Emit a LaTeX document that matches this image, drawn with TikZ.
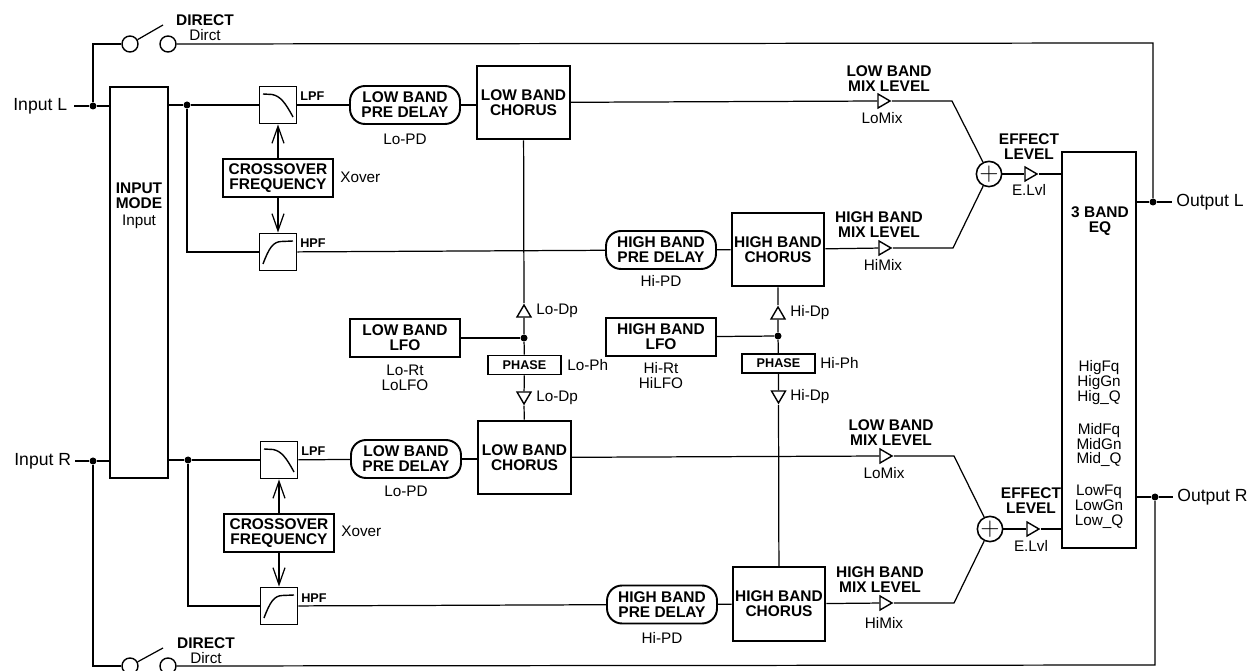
\documentclass[tikz,border=0pt]{standalone}
\usepackage{xcolor}
\usepackage{fontspec}
\setmainfont{Liberation Sans}
\usepackage{tikz}
\usetikzlibrary{arrows.meta, shapes.geometric, positioning, calc}

\tikzset{
  wire/.style={line width=0.7pt},
  feed/.style={wire, -{Straight Barb[length=0.34cm, width=0.24cm]}},
  tagtext/.style={inner sep=0pt, align=center, font=\fontsize{8.7}{8.5}\selectfont},
  headtext/.style={inner sep=0pt, align=center, font=\bfseries\fontsize{8.8}{8.5}\selectfont},
  tinytext/.style={inner sep=0pt, font=\bfseries\fontsize{7.2}{8}\selectfont},
  porttext/.style={inner sep=0pt, font=\fontsize{10}{12}\selectfont},
  filterbox/.style={draw, line width=1.1pt, minimum width=0.74cm, minimum height=0.74cm, inner sep=0pt},
  xoverbox/.style={headtext, draw, line width=1.1pt, minimum width=2.2cm, minimum height=0.76cm},
  pillbox/.style={headtext, draw, line width=1.1pt, rounded corners=0.3cm, minimum width=2.2cm, minimum height=0.76cm},
  lfobox/.style={headtext, draw, line width=1.2pt, minimum width=2.2cm, minimum height=0.75cm},
  chorusbox/.style={headtext, draw, line width=1.2pt, minimum width=1.85cm, minimum height=1.47cm},
  phasebox/.style={tinytext, draw, line width=1pt, minimum width=1.47cm, minimum height=0.38cm},
  dot/.style={circle, fill=black, inner sep=0pt, minimum size=0.14cm},
  contact/.style={circle, draw, line width=0.8pt, inner sep=0pt, minimum size=0.32cm},
  summer/.style={circle, draw, line width=0.9pt, inner sep=0pt, minimum size=0.44cm, font=\fontsize{15}{15}\selectfont},
  amp/.style={isosceles triangle, isosceles triangle stretches, draw, line width=0.8pt, inner sep=0pt,
    minimum width=0.28cm, minimum height=0.24cm},
  ampright/.style={amp, shape border rotate=0},
  ampup/.style={amp, shape border rotate=90},
  ampdown/.style={amp, shape border rotate=270}
}

\newcommand{\lowcurve}[1]{\draw[line width=0.8pt, shift={(#1)}] (-15,-11) -- (-6,-10.5) .. controls (2,-9) and (7,-3) .. (15,12);}
\newcommand{\highcurve}[1]{\draw[line width=0.8pt, shift={(#1)}] (-15,12) .. controls (-9,-4) and (-5,-10) .. (3,-10.5) -- (15,-11);}

\begin{document}
\begin{tikzpicture}[x=0.02cm, y=-0.02cm]
  \useasboundingbox (0,0) rectangle (1250,671);

  % inputs and the direct paths
  \node[porttext, anchor=west] (inl) at (13,106) {Input L};
  \node[porttext, anchor=west] (inr) at (14,461) {Input R};
  \node[porttext, anchor=west] (outl) at (1176,202) {Output L};
  \node[porttext, anchor=west] (outr) at (1177,497) {Output R};
  \coordinate (inlend) at (74,106);
  \coordinate (inrend) at (75,461);
  \coordinate (outlend) at (1172,202);
  \coordinate (outrend) at (1173,497);
  \node[dot] (inldot) at (93,106) {};
  \node[dot] (inrdot) at (93,461) {};
  \node[dot] (outldot) at (1153,202) {};
  \node[dot] (outrdot) at (1155,497) {};
  \node[contact] (swla) at (130,44) {};
  \node[contact] (swlb) at (168,44) {};
  \node[contact] (swra) at (130,666) {};
  \node[contact] (swrb) at (168,666) {};
  \coordinate (swlarm) at (163,25);
  \coordinate (swrarm) at (163,648);
  \coordinate (topleft) at (93,44);
  \coordinate (topright) at (1153,43);
  \coordinate (botleft) at (93,666);
  \coordinate (botright) at (1155,665);
  \node[headtext] (dirl) at (205,20) {DIRECT};
  \node[tagtext] (dirlp) at (205,35) {Dirct};
  \node[headtext] (dirr) at (206,643) {DIRECT};
  \node[tagtext] (dirrp) at (206,658) {Dirct};

  % input mode and eq
  \node[draw, line width=1.3pt, minimum width=1.16cm, minimum height=7.82cm] (inmode) at (139,282.5) {};
  \node[headtext] (inmodet) at (139,196) {INPUT\\MODE};
  \node[tagtext] (inmodep) at (139,222) {Input};
  \node[draw, line width=1.4pt, minimum width=1.48cm, minimum height=7.92cm] (eq) at (1099,350) {};
  \node[headtext] (eqt) at (1100,221.5) {3 BAND\\EQ};
  \node[tagtext] (eqhi) at (1099,382.5) {HigFq\\HigGn\\Hig\_Q};
  \node[tagtext] (eqmid) at (1099,445) {MidFq\\MidGn\\Mid\_Q};
  \node[tagtext] (eqlo) at (1099,507) {LowFq\\LowGn\\Low\_Q};

  % left channel front
  \node[dot] (ltap) at (187,105) {};
  \node[filterbox] (lpfa) at (278,105) {};
  \node[filterbox] (hpfa) at (278,252) {};
  \node[xoverbox] (xoa) at (278,178) {CROSSOVER\\FREQUENCY};
  \node[tagtext, anchor=west] (xoap) at (340,177) {Xover};
  \node[tinytext, anchor=west] (lpfat) at (300,96) {LPF};
  \node[tinytext, anchor=west] (hpfat) at (300,243) {HPF};
  \coordinate (ltapb) at (187,252);
  \lowcurve{lpfa.center}
  \highcurve{hpfa.center}
  \node[pillbox] (lopda) at (405,105) {LOW BAND\\PRE DELAY};
  \node[tagtext] (lopdat) at (405,139) {Lo-PD};
  \node[chorusbox] (locha) at (523.5,102.5) {LOW BAND\\CHORUS};
  \node[pillbox] (hipda) at (661,250) {HIGH BAND\\PRE DELAY};
  \node[tagtext] (hipdat) at (661,281) {Hi-PD};
  \node[chorusbox] (hicha) at (778,249.5) {HIGH BAND\\CHORUS};

  % right channel front
  \node[dot] (rtap) at (188,460) {};
  \node[filterbox] (lpfb) at (279,460) {};
  \node[filterbox] (hpfb) at (279,606) {};
  \node[xoverbox] (xob) at (279,533) {CROSSOVER\\FREQUENCY};
  \node[tagtext, anchor=west] (xobp) at (341,531) {Xover};
  \node[tinytext, anchor=west] (lpfbt) at (301,451) {LPF};
  \node[tinytext, anchor=west] (hpfbt) at (301,598) {HPF};
  \coordinate (rtapb) at (188,606);
  \lowcurve{lpfb.center}
  \highcurve{hpfb.center}
  \node[pillbox] (lopdb) at (406,459) {LOW BAND\\PRE DELAY};
  \node[tagtext] (lopdbt) at (406,491) {Lo-PD};
  \node[chorusbox] (lochb) at (524.5,457.5) {LOW BAND\\CHORUS};
  \node[pillbox] (hipdb) at (662,604.5) {HIGH BAND\\PRE DELAY};
  \node[tagtext] (hipdbt) at (662,638) {Hi-PD};
  \node[chorusbox] (hichb) at (779,604) {HIGH BAND\\CHORUS};

  % modulation
  \node[lfobox] (lolfo) at (405,338) {LOW BAND\\LFO};
  \node[tagtext] (lolfop) at (405,377.5) {Lo-Rt\\LoLFO};
  \node[dot] (lodot) at (524,338) {};
  \node[phasebox] (loph) at (524.5,365) {PHASE};
  \node[tagtext, anchor=west] (lophp) at (567,365) {Lo-Ph};
  \node[ampup] (lodpa) at (524,313) {};
  \node[tagtext, anchor=west] (lodpat) at (536,311) {Lo-Dp};
  \node[ampdown] (lodpb) at (524,396) {};
  \node[tagtext, anchor=west] (lodpbt) at (536,398) {Lo-Dp};
  \node[lfobox] (hilfo) at (661,337) {HIGH BAND\\LFO};
  \node[tagtext] (hilfop) at (661,375.5) {Hi-Rt\\HiLFO};
  \node[dot] (hidot) at (778,336) {};
  \node[phasebox] (hiph) at (778.5,363.5) {PHASE};
  \node[tagtext, anchor=west] (hiphp) at (820,363) {Hi-Ph};
  \node[ampup] (hidpa) at (778,315) {};
  \node[tagtext, anchor=west] (hidpat) at (790,313) {Hi-Dp};
  \node[ampdown] (hidpb) at (778.5,395) {};
  \node[tagtext, anchor=west] (hidpbt) at (790,397) {Hi-Dp};

  % mix section
  \node[ampright] (lomixa) at (882,101) {};
  \node[headtext] (lomixat) at (889,79) {LOW BAND\\MIX LEVEL};
  \node[tagtext] (lomixap) at (882,118) {LoMix};
  \node[ampright] (himixa) at (883,248) {};
  \node[headtext] (himixat) at (879,224.5) {HIGH BAND\\MIX LEVEL};
  \node[tagtext] (himixap) at (883,265) {HiMix};
  \node[summer] (suma) at (989,174) {$+$};
  \coordinate (lobenda) at (952,101);
  \coordinate (hibenda) at (953,248);
  \node[ampright] (efa) at (1029,174) {};
  \node[headtext] (efat) at (1029,146.5) {EFFECT\\LEVEL};
  \node[tagtext] (efap) at (1029,190) {E.Lvl};
  \node[ampright] (lomixb) at (884,456) {};
  \node[headtext] (lomixbt) at (891,433) {LOW BAND\\MIX LEVEL};
  \node[tagtext] (lomixbp) at (884,473) {LoMix};
  \node[ampright] (himixb) at (884,603) {};
  \node[headtext] (himixbt) at (880,579.5) {HIGH BAND\\MIX LEVEL};
  \node[tagtext] (himixbp) at (884,623) {HiMix};
  \node[summer] (sumb) at (990,529) {$+$};
  \coordinate (lobendb) at (954,456);
  \coordinate (hibendb) at (954,603);
  \node[ampright] (efb) at (1031,529) {};
  \node[headtext] (efbt) at (1031,501) {EFFECT\\LEVEL};
  \node[tagtext] (efbp) at (1031,546) {E.Lvl};

  % connections
  \draw[wire] (inlend) -- (inldot) -- (inmode.west |- inldot);
  \draw[wire] (inrend) -- (inrdot) -- (inmode.west |- inrdot);
  \draw[wire] (inldot) -- (topleft) -- (swla);
  \draw[wire] (swla) -- (swlarm);
  \draw[wire] (swlb) -- (topright) -- (outldot);
  \draw[wire] (inrdot) -- (botleft) -- (swra);
  \draw[wire] (swra) -- (swrarm);
  \draw[wire] (swrb) -- (botright) -- (outrdot);
  \draw[wire] (eq.east |- outldot) -- (outldot) -- (outlend);
  \draw[wire] (eq.east |- outrdot) -- (outrdot) -- (outrend);

  \draw[wire] (inmode.east |- ltap) -- (ltap) -- (lpfa);
  \draw[wire] (ltap) -- (ltapb) -- (hpfa);
  \draw[feed] (xoa) -- (lpfa);
  \draw[feed] (xoa) -- (hpfa);
  \draw[wire] (lpfa) -- (lopda);
  \draw[wire] (lopda) -- (lopda -| locha.west);
  \draw[wire] (hpfa) -- (hipda) -- (hicha);
  \draw[wire] (inmode.east |- rtap) -- (rtap) -- (lpfb);
  \draw[wire] (rtap) -- (rtapb) -- (hpfb);
  \draw[feed] (xob) -- (lpfb);
  \draw[feed] (xob) -- (hpfb);
  \draw[wire] (lpfb) -- (lopdb);
  \draw[wire] (lopdb) -- (lopdb -| lochb.west);
  \draw[wire] (hpfb) -- (hipdb) -- (hichb);

  \draw[wire] (locha) -- (lodpa) -- (lodot) -- (loph) -- (lodpb) -- (lochb);
  \draw[wire] (lolfo) -- (lodot);
  \draw[wire] (hicha) -- (hidpa) -- (hidot) -- (hiph);
  \draw[wire] (hiph) -- (hidpb) -- (hichb);
  \draw[wire] (hilfo) -- (hidot);

  \draw[wire] (locha) -- (lomixa) -- (lobenda) -- (suma);
  \draw[wire] (hicha) -- (himixa) -- (hibenda) -- (suma);
  \draw[wire] (suma) -- (efa) -- (eq.west |- efa);
  \draw[wire] (lochb) -- (lomixb) -- (lobendb) -- (sumb);
  \draw[wire] (hichb) -- (himixb) -- (hibendb) -- (sumb);
  \draw[wire] (sumb) -- (efb) -- (eq.west |- efb);
\end{tikzpicture}
\end{document}
